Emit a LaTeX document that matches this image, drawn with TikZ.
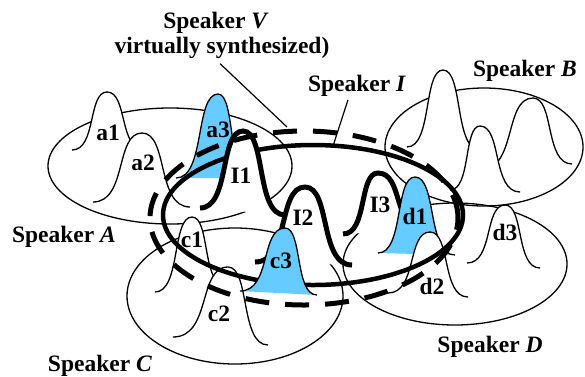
\documentclass[tikz,border=0pt]{standalone}
\usepackage{fontspec}
\setmainfont{Liberation Serif}
\usetikzlibrary{positioning}
\definecolor{peakblue}{RGB}{102,204,255}

\newcommand{\peakpath}[6]{(#1,#2) .. controls ({#1+0.7*(#3-#1)},#2) and ({#3-0.55*(#3-#1)},#4) .. (#3,#4) .. controls ({#3+0.55*(#5-#3)},#4) and ({#5-0.7*(#5-#3)},#6) .. (#5,#6)}
\newcommand{\peak}[8]{%
  \fill[#1] \peakpath{#3}{#4}{#5}{#6}{#7}{#8} -- cycle;
  \draw[#2] \peakpath{#3}{#4}{#5}{#6}{#7}{#8};}

\begin{document}
\begin{tikzpicture}[x=1pt,y=-1pt,
    thin line/.style={line width=1.3pt},
    speaker line/.style={line width=4.5pt},
    bump line/.style={line width=5pt},
    virtual line/.style={line width=5pt,dash pattern=on 24pt off 16pt},
    pointer/.style={line width=1.2pt},
    label/.style={font=\fontsize{23.5}{26}\selectfont\bfseries,inner sep=0pt}]
  \useasboundingbox (0,0) rectangle (585,376);

  % speakers A, B, C, D
  \draw[thin line] (170,166) ellipse [x radius=122pt, y radius=58pt];
  \draw[thin line] (484,147) ellipse [x radius=99pt, y radius=59pt];
  \draw[thin line] (235,296) ellipse [x radius=108pt, y radius=68pt];
  \draw[thin line] (455,264) ellipse [x radius=112pt, y radius=61pt];

  \peak{white}{thin line}{72}{150}{107}{92}{145}{150}
  \peak{white}{thin line}{93}{202}{142}{133}{190}{207}
  \peak{white}{thin line}{407}{147}{443}{70}{480}{150}
  \peak{white}{thin line}{480}{170}{533}{98}{572}{164}
  \peak{white}{thin line}{450}{190}{480}{126}{520}{192}
  \peak{white}{thin line}{155}{292}{192}{217}{225}{285}
  \peak{white}{thin line}{173}{337}{228}{267}{268}{345}
  \peak{white}{thin line}{467}{263}{505}{205}{540}{268}

  \peak{white}{bump line}{343}{234}{378}{173}{425}{230}
  \peak{peakblue}{thin line}{378}{253}{415}{177}{455}{255}
  \peak{white}{thin line}{388}{293}{430}{232}{468}{297}
  \peak{peakblue}{thin line}{176}{178}{218}{94}{250}{178}

  % speaker I
  \draw[speaker line] (313,215) ellipse [x radius=150pt, y radius=70pt];
  \peak{white}{bump line}{200}{208}{243}{131}{285}{215}
  \peak{white}{bump line}{255}{262}{305}{187}{352}{265}
  \peak{peakblue}{thin line}{240}{291}{285}{228}{317}{295}

  % speaker V
  \draw[virtual line] (304,218) ellipse [x radius=154pt, y radius=87pt];

  \node[label] (a1) at (108,133) {a1};
  \node[label] (a2) at (143,163) {a2};
  \node[label] (a3) at (218,130) {a3};
  \node[label] (c1) at (192,240) {c1};
  \node[label] (c2) at (219,314) {c2};
  \node[label] (c3) at (281,261) {c3};
  \node[label] (d1) at (415,216) {d1};
  \node[label] (d2) at (432,286) {d2};
  \node[label] (d3) at (505,232) {d3};
  \node[label] (I1) at (241,176) {I1};
  \node[label] (I2) at (303,218) {I2};
  \node[label] (I3) at (380,205) {I3};

  \node[label] (spkA) at (64,237) {Speaker \textit{A}};
  \node[label] (spkB) at (525,71) {Speaker \textit{B}};
  \node[label] (spkC) at (100,366) {Speaker \textit{C}};
  \node[label] (spkD) at (490,347) {Speaker \textit{D}};
  \node[label] (spkI) at (357,86) {Speaker \textit{I}};
  \node[label] (vname) at (216,23) {Speaker \textit{V}};
  \node[label] (synth) [below=3pt of vname,xshift=6pt] {virtually synthesized)};

  \coordinate (vtip) at (287,127);
  \coordinate (itip) at (333,146);
  \draw[pointer] ([xshift=-2pt,yshift=-5pt]synth.south) -- (vtip);
  \draw[pointer] ([xshift=-9pt,yshift=-3pt]spkI.south) -- (itip);
\end{tikzpicture}
\end{document}
